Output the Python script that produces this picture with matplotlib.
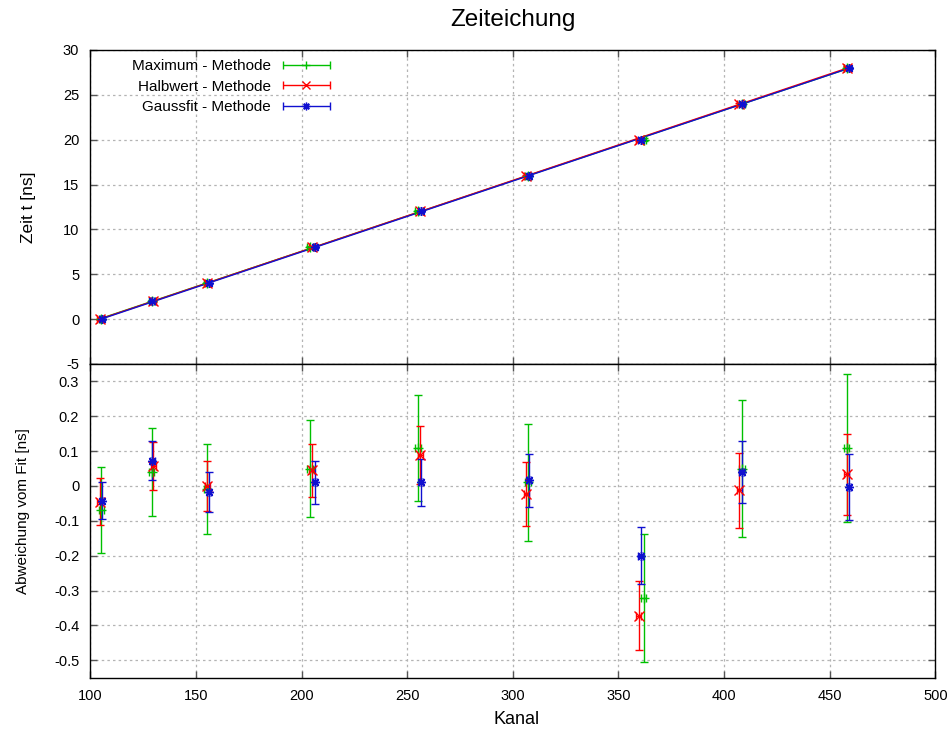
import numpy as np
import matplotlib
matplotlib.use("Agg")
import matplotlib.pyplot as plt
from matplotlib.ticker import MultipleLocator, FuncFormatter
from matplotlib.container import ErrorbarContainer
from matplotlib.legend_handler import HandlerErrorbar

plt.rcParams['font.family'] = ['Liberation Sans', 'DejaVu Sans']
plt.rcParams['axes.unicode_minus'] = False

# ---- data ----
zeit = [0, 2, 4, 8, 12, 16, 20, 24, 28]

kanal_max = [105.2, 129.0, 155.1, 204.1, 255.1, 307.2, 361.9, 408.5, 458.0]
res_max = [-0.069, 0.040, -0.009, 0.050, 0.110, 0.010, -0.322, 0.050, 0.109]
err_max = [0.123, 0.125, 0.130, 0.140, 0.152, 0.167, 0.183, 0.197, 0.213]
kerr_max = [1.3, 1.3, 1.3, 1.3, 1.3, 1.3, 1.3, 1.3, 1.3]

kanal_halb = [104.4, 129.7, 155.4, 204.9, 256.2, 306.4, 359.7, 407.2, 458.0]
res_halb = [-0.045, 0.058, 0.000, 0.045, 0.090, -0.023, -0.372, -0.013, 0.033]
err_halb = [0.067, 0.069, 0.071, 0.076, 0.083, 0.092, 0.099, 0.107, 0.117]
kerr_halb = [1.2, 1.2, 1.2, 1.2, 1.2, 1.2, 1.2, 1.2, 1.2]

kanal_gauss = [105.7, 129.4, 156.0, 206.3, 256.5, 307.5, 360.5, 408.3, 459.1]
res_gauss = [-0.042, 0.073, -0.018, 0.010, 0.010, 0.016, -0.200, 0.040, -0.003]
err_gauss = [0.054, 0.055, 0.058, 0.063, 0.068, 0.075, 0.082, 0.089, 0.096]
kerr_gauss = [1.0, 1.0, 1.0, 1.0, 1.0, 1.0, 1.0, 1.0, 1.0]

labels = ["Maximum - Methode", "Halbwert - Methode", "Gaussfit - Methode"]
colors = ["#00c000", "#ff0000", "#1010d0"]
markers = ["+", "x", (8, 2, 0)]

series = [
    (kanal_max, res_max, err_max, kerr_max),
    (kanal_halb, res_halb, err_halb, kerr_halb),
    (kanal_gauss, res_gauss, err_gauss, kerr_gauss),
]

# ---- figure ----
fig = plt.figure(figsize=(9.5, 7.35), dpi=100)
L, R = 0.0951, 0.9845
ax1 = fig.add_axes([L, 0.5048, R - L, 0.932 - 0.5048])
ax2 = fig.add_axes([L, 0.0780, R - L, 0.5048 - 0.0780])

eb_kw = dict(linestyle='none', markersize=6.5, markeredgewidth=1.0,
             elinewidth=1.0, capsize=2.8, capthick=1.0)

legend_handles = []
for (ch, res, err, kerr), lab, col, mk in zip(series, labels, colors, markers):
    ch = np.asarray(ch)
    # fit line in the upper panel
    p = np.polyfit(ch, zeit, 1)
    xs = np.array([ch.min(), ch.max()])
    ax1.plot(xs, np.polyval(p, xs), color=col, lw=1.0, zorder=2)
    ax1.errorbar(ch, zeit, xerr=kerr, yerr=err, color=col, marker=mk,
                 zorder=3, **eb_kw)
    ax2.errorbar(ch, res, xerr=kerr, yerr=err, color=col, marker=mk,
                 zorder=3, **eb_kw)
    h = ax1.errorbar([np.nan], [np.nan], xerr=[1.0], color=col, marker=mk,
                     label=lab, **dict(eb_kw, markersize=5.5))
    legend_handles.append(h)

fmt = FuncFormatter(lambda v, pos: "%g" % round(v, 6))

for ax in (ax1, ax2):
    ax.set_xlim(100, 500)
    ax.xaxis.set_major_locator(MultipleLocator(50))
    ax.grid(True, color='#b4b4b4', linestyle=(0, (2, 2.5)), linewidth=0.9)
    ax.set_axisbelow(True)
    ax.tick_params(direction='in', top=True, right=True, length=5,
                   width=1.0, color='#555555', labelsize=10.5, pad=8)
    for s in ax.spines.values():
        s.set_linewidth(1.0)
        s.set_color('black')
    ax.yaxis.set_major_formatter(fmt)

ax1.set_ylim(-5, 30)
ax1.yaxis.set_major_locator(MultipleLocator(5))
ax1.tick_params(labelbottom=False)

ax2.set_ylim(-0.55, 0.35)
ax2.yaxis.set_major_locator(MultipleLocator(0.1))
ax2.xaxis.set_major_formatter(fmt)

ax1.set_ylabel("Zeit t [ns]", fontsize=12.5)
ax1.yaxis.set_label_coords(-0.064, 0.5)
ax2.set_ylabel("Abweichung vom Fit [ns]", fontsize=11)
ax2.yaxis.set_label_coords(-0.071, 0.53)
ax2.set_xlabel("Kanal", fontsize=13)
ax2.xaxis.set_label_coords(0.505, -0.105)

ax1.set_title("Zeiteichung", fontsize=17.5, pad=17)

leg = ax1.legend(handles=legend_handles, loc='upper right',
                 bbox_to_anchor=(0.2837, 0.970), markerfirst=False,
                 frameon=False, fontsize=11, handlelength=3.1,
                 handletextpad=0.75, labelspacing=0.42, borderpad=0,
                 borderaxespad=0,
                 handler_map={ErrorbarContainer: HandlerErrorbar(xerr_size=1.55)})

fig.savefig("out.png", dpi=100)
